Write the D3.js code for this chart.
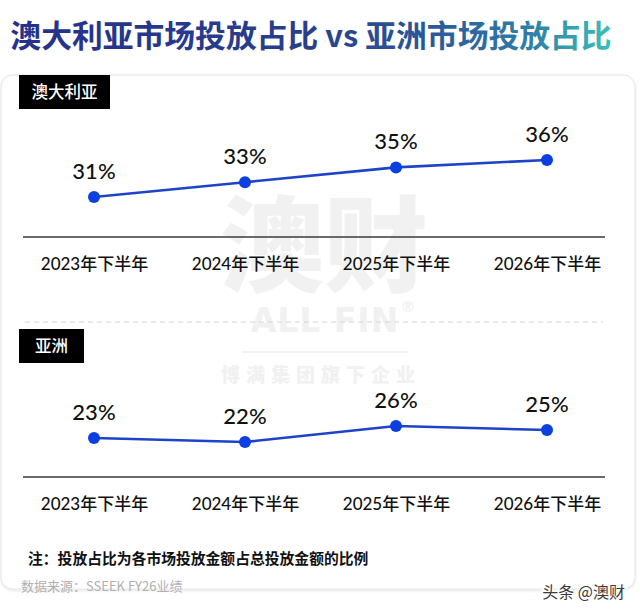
<!DOCTYPE html>
<html>
<head>
<meta charset="utf-8">
<script src="https://cdn.jsdelivr.net/npm/d3@7/dist/d3.min.js"></script>
<style>
  html, body { margin: 0; padding: 0; background: #ffffff; }
  svg { display: block; }
</style>
</head>
<body>
<script>
// ---- Data ----
const categories = ["2023年下半年", "2024年下半年", "2025年下半年", "2026年下半年"];
const australiaShare = [31, 33, 35, 36];
const asiaShare = [23, 22, 26, 25];
const panelNames = ["澳大利亚", "亚洲"];
const titleText = "澳大利亚市场投放占比 vs 亚洲市场投放占比";
const noteText = "注：投放占比为各市场投放金额占总投放金额的比例";
const sourceText = "数据来源：SSEEK FY26业绩";
const brandText = "头条 @澳财";

const W = 640, H = 614;
const cjk = "'Noto Sans CJK SC', 'Noto Sans', sans-serif";
const latin = "Lato, 'Noto Sans CJK SC', sans-serif";

const svg = d3.select("body").append("svg").attr("width", W).attr("height", H);
const defs = svg.append("defs");

const grad = defs.append("linearGradient")
  .attr("id", "titleGrad").attr("gradientUnits", "userSpaceOnUse")
  .attr("x1", 15).attr("x2", 607).attr("y1", 0).attr("y2", 0);
[[0, "#25318a"], [0.5, "#283f8c"], [0.7, "#2b5898"], [0.87, "#2f7ea6"], [1, "#3bbcb6"]]
  .forEach(([o, c]) => grad.append("stop").attr("offset", o).attr("stop-color", c));

const shadow = defs.append("filter").attr("id", "cardShadow")
  .attr("x", "-5%").attr("y", "-5%").attr("width", "110%").attr("height", "110%");
shadow.append("feDropShadow").attr("dx", 0).attr("dy", 1).attr("stdDeviation", 1.5)
  .attr("flood-color", "#000").attr("flood-opacity", 0.12);

// Title
svg.append("text")
  .attr("x", 311).attr("y", 47)
  .attr("text-anchor", "middle")
  .attr("font-family", cjk).attr("font-weight", 700).attr("font-size", 30.8)
  .attr("fill", "url(#titleGrad)")
  .text(titleText);

// Card
svg.append("rect")
  .attr("x", 1).attr("y", 75).attr("width", 634).attr("height", 514)
  .attr("rx", 12).attr("fill", "#fff").attr("stroke", "#e6e6e6").attr("stroke-width", 1)
  .attr("filter", "url(#cardShadow)");

// Watermark (background decoration)
const wm = svg.append("g").attr("fill", "#f1f1f1").attr("font-family", cjk).attr("font-weight", 900);
wm.append("text").attr("x", 324).attr("y", 284).attr("text-anchor", "middle")
  .attr("font-size", 104).text("澳财");
wm.append("text").attr("x", 325).attr("y", 332).attr("text-anchor", "middle")
  .attr("font-family", "'DejaVu Sans', sans-serif").attr("font-weight", 700)
  .attr("font-size", 33).attr("letter-spacing", 1).text("ALL FIN");
wm.append("text").attr("x", 408).attr("y", 312).attr("text-anchor", "middle")
  .attr("font-family", "'DejaVu Sans', sans-serif").attr("font-size", 15).text("®");
wm.append("line").attr("x1", 242).attr("x2", 408).attr("y1", 352).attr("y2", 352)
  .attr("stroke", "#f1f1f1").attr("stroke-width", 1.5);
wm.append("text").attr("x", 321).attr("y", 382).attr("text-anchor", "middle")
  .attr("font-size", 19).attr("letter-spacing", 6).text("博满集团旗下企业");

// Dashed separator
svg.append("line").attr("x1", 25).attr("x2", 603).attr("y1", 322).attr("y2", 322)
  .attr("stroke", "#d4d4d4").attr("stroke-width", 1).attr("stroke-dasharray", "5,4");

// Shared x scale
const x = d3.scalePoint().domain(categories).range([94, 547]);

const panels = [
  { name: panelNames[0], values: australiaShare, y: d3.scaleLinear().domain([31, 36]).range([197, 160]),
    axisY: 237, labelY: 270, box: [19, 75, 91, 34] },
  { name: panelNames[1], values: asiaShare, y: d3.scaleLinear().domain([22, 26]).range([442, 426]),
    axisY: 477, labelY: 510, box: [19, 329, 65, 34] }
];

const line = (ys) => d3.line().x(d => x(d.c)).y(d => ys(d.v));

panels.forEach(p => {
  const g = svg.append("g");
  g.append("rect").attr("x", p.box[0]).attr("y", p.box[1]).attr("width", p.box[2]).attr("height", p.box[3])
    .attr("fill", "#000");
  g.append("text").attr("x", p.box[0] + p.box[2] / 2).attr("y", p.box[1] + p.box[3] / 2 + 6)
    .attr("text-anchor", "middle").attr("fill", "#fff")
    .attr("font-family", cjk).attr("font-size", 16.5).attr("font-weight", 500).text(p.name);

  const axis = d3.axisBottom(x).tickSize(0).tickPadding(0);
  const ax = g.append("g").attr("transform", `translate(0,${p.axisY})`).call(axis);
  ax.select(".domain").attr("d", `M23,0H605`).attr("stroke", "#3a3a3a").attr("stroke-width", 1.6);
  ax.selectAll(".tick text")
    .attr("y", p.labelY - p.axisY).attr("dy", 0)
    .attr("font-family", latin).attr("font-size", 17).attr("font-weight", 500).attr("fill", "#111");

  const data = categories.map((c, i) => ({ c, v: p.values[i] }));
  g.append("path").datum(data).attr("d", line(p.y))
    .attr("fill", "none").attr("stroke", "#1d44c8").attr("stroke-width", 2.6);
  g.selectAll("circle.pt").data(data).enter().append("circle").attr("class", "pt")
    .attr("cx", d => x(d.c)).attr("cy", d => p.y(d.v)).attr("r", 6)
    .attr("fill", "#0b3fe0");
  g.selectAll("text.val").data(data).enter().append("text").attr("class", "val")
    .attr("x", d => x(d.c)).attr("y", d => p.y(d.v) - 18)
    .attr("text-anchor", "middle")
    .attr("font-family", latin).attr("font-size", 22).attr("font-weight", 500).attr("fill", "#111")
    .text(d => d.v + "%");
});

// Footer
svg.append("text").attr("x", 28).attr("y", 564)
  .attr("font-family", cjk).attr("font-weight", 700).attr("font-size", 14.8).attr("fill", "#111")
  .text(noteText);
svg.append("text").attr("x", 21).attr("y", 591)
  .attr("font-family", cjk).attr("font-size", 13).attr("fill", "#b0b0b0")
  .text(sourceText);
svg.append("text").attr("x", 625).attr("y", 598).attr("text-anchor", "end")
  .attr("font-family", cjk).attr("font-size", 16).attr("fill", "#3a3a3a")
  .attr("stroke", "#fff").attr("stroke-width", 3).attr("paint-order", "stroke")
  .text(brandText);
</script>
</body>
</html>
